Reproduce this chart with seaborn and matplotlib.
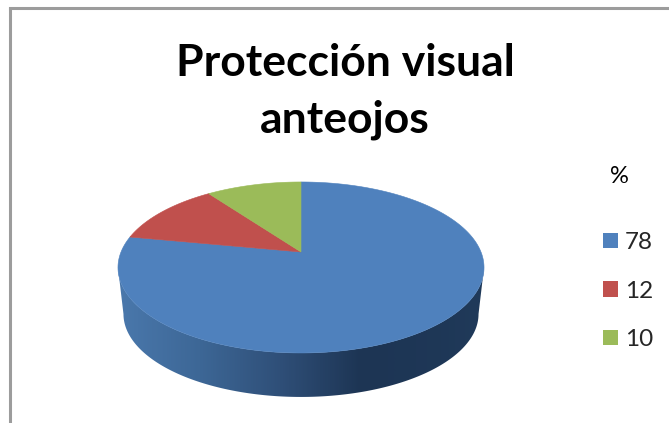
import numpy as np
import matplotlib
matplotlib.use("Agg")
import matplotlib.pyplot as plt
from matplotlib.colors import LinearSegmentedColormap
from matplotlib.patches import Patch, Polygon
import seaborn as sns

title = "Protección visual\nanteojos"
legend_title = "%"
labels = ["78", "12", "10"]
values = [78, 12, 10]
colors = ["#4F81BD", "#C0504D", "#9BBB59"]
side_colors = ["#4A78AC", "#3D6796", "#2F4F78", "#1D3554", "#203A5A"]

sns.set_theme(style="white")
plt.rcParams["font.family"] = ["Lato", "DejaVu Sans"]
palette = sns.color_palette(colors)

W, H = 669, 423
fig = plt.figure(figsize=(W / 100, H / 100), dpi=100, facecolor="white")
ax = fig.add_axes([9.5 / W, 0, 1 - 9.5 / W, 1 - 8.5 / H])
ax.set_xlim(9.5, W)
ax.set_ylim(H, 8.5)
ax.set_xticks([])
ax.set_yticks([])
for s in ("right", "bottom"):
    ax.spines[s].set_visible(False)
for s in ("left", "top"):
    ax.spines[s].set_color("#9C9C9C")
    ax.spines[s].set_linewidth(2.2)

# perspective projection of the pie's unit disc
CX, CY = 301, 252
A, B, K = 180.0, 82.7, 0.181


def rim(theta, scale=1.0, cy=CY):
    u, v = np.sin(theta), np.cos(theta)
    w = 1 + K * v
    return CX + scale * A * u / w, cy - scale * B * v / w


# side wall (front half of the rim)
t_left = 2 * np.pi - np.arccos(-K)
t_right = np.arccos(-K)
ts = np.linspace(t_right, t_left, 200)
xu, yu = rim(ts)
xl, yl = rim(ts, scale=0.97, cy=299)
verts = np.column_stack([np.r_[xu, xl[::-1]], np.r_[yu, yl[::-1]]])
clip = Polygon(verts, closed=True, transform=ax.transData, facecolor="none", edgecolor="none")
ax.add_patch(clip)
cmap = LinearSegmentedColormap.from_list("side", side_colors)
grad = np.concatenate([np.linspace(0, 0.75, 200), np.linspace(0.75, 0.86, 60), np.linspace(0.86, 1, 40)])[None, :]
img = ax.imshow(grad, extent=(118, 484, 400, 260), cmap=cmap, vmin=0, vmax=1, aspect="auto", zorder=2)
img.set_clip_path(clip)
ax.set_xlim(9.5, W)
ax.set_ylim(H, 8.5)

# top face wedges, clockwise from the top
edges = np.r_[0, np.cumsum(values)] / np.sum(values) * 2 * np.pi
for i, col in enumerate(palette):
    t = np.linspace(edges[i], edges[i + 1], 200)
    x, y = rim(t)
    ax.fill(np.r_[CX, x], np.r_[CY, y], color=col, lw=0.4, zorder=3)

ax.text(345, 91.5, title, ha="center", va="center", fontsize=32, fontweight="bold",
        color="black", linespacing=1.47)
ax.text(619, 176, legend_title, ha="center", va="center", fontsize=17, color="black")

handles = [Patch(facecolor=c, edgecolor="none", label=l) for c, l in zip(palette, labels)]
ax.legend(handles=handles, frameon=False, loc="center left",
          bbox_to_anchor=(603, 291), bbox_transform=ax.transData,
          fontsize=17.5, handlelength=0.6, handleheight=0.6, handletextpad=0.29,
          labelspacing=1.13, borderpad=0, borderaxespad=0)

fig.savefig("out.png", dpi=100, facecolor="white")
